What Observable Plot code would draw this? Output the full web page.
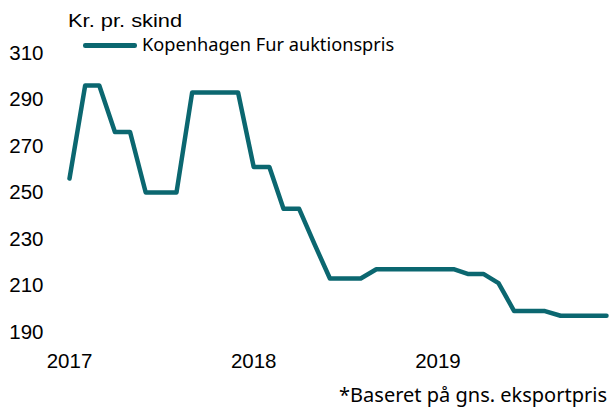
<!DOCTYPE html>
<html>
<head>
<meta charset="utf-8">
<script src="https://cdn.jsdelivr.net/npm/d3@7"></script>
<script src="https://cdn.jsdelivr.net/npm/@observablehq/plot@0.6"></script>
<style>
  html, body { margin: 0; padding: 0; background: #fff; }
  #wrap { position: relative; width: 612px; height: 407px; overflow: hidden; }
  #wrap svg { position: absolute; left: 0; top: 0; }
  .title { position: absolute; left: 68px; top: 10.6px; font-family: "Liberation Sans", Arial, sans-serif; font-size: 19px; line-height: 1; color: #000; white-space: nowrap; transform: scaleX(1.15); transform-origin: left top; }
  .legend { position: absolute; left: 83px; top: 34.5px; font-family: "Noto Sans", sans-serif; font-size: 18.2px; line-height: 1; color: #000; white-space: nowrap; }
  .legend .sw { position: absolute; left: 0; top: 8.5px; width: 54px; height: 4.5px; background: #0b6770; border-radius: 2.25px; }
  .legend .lt { position: absolute; left: 59px; top: 0; }
  .caption { position: absolute; right: 5px; top: 384.5px; font-family: "Noto Sans", sans-serif; font-size: 20px; line-height: 1; color: #000; white-space: nowrap; }
</style>
</head>
<body>
<div id="wrap">
  <div class="title">Kr. pr. skind</div>
  <div class="legend"><span class="sw"></span><span class="lt">Kopenhagen Fur auktionspris</span></div>
  <div class="caption">*Baseret på gns. eksportpris</div>
</div>
<script>
const months = [
  "2017-01","2017-02","2017-03","2017-04","2017-05","2017-06","2017-07","2017-08","2017-09","2017-10","2017-11","2017-12",
  "2018-01","2018-02","2018-03","2018-04","2018-05","2018-06","2018-07","2018-08","2018-09","2018-10","2018-11","2018-12",
  "2019-01","2019-02","2019-03","2019-04","2019-05","2019-06","2019-07","2019-08","2019-09","2019-10","2019-11","2019-12"
];
const prices = [
  256, 296, 296, 276, 276, 250, 250, 250, 293, 293, 293, 293,
  261, 261, 243, 243, 228, 213, 213, 213, 217, 217, 217, 217,
  217, 217, 215, 215, 211, 199, 199, 199, 197, 197, 197, 197
];
const yTicks = [190, 210, 230, 250, 270, 290, 310];
const xTickYears = ["2017-01", "2018-01", "2019-01"];
const seriesName = "Kopenhagen Fur auktionspris";

const parse = d3.utcParse("%Y-%m");
const data = months.map((m, i) => ({date: parse(m), value: prices[i], series: seriesName}));

const chart = Plot.plot({
  width: 612,
  height: 407,
  marginLeft: 69,
  marginRight: 6,
  marginTop: 52.5,
  marginBottom: 407 - 331.5,
  style: {fontFamily: "'Liberation Sans', Arial, sans-serif", fontSize: "20.5px", color: "#000", background: "transparent"},
  x: {type: "utc", domain: [parse(months[0]), parse(months[months.length - 1])], label: null},
  y: {domain: [190, 310], label: null},
  marks: [
    Plot.axisX({ticks: xTickYears.map(parse), tickFormat: d3.utcFormat("%Y"), tickSize: 0, tickPadding: 21, fontSize: 20.5, label: null}),
    Plot.axisY({ticks: yTicks, tickSize: 0, tickPadding: 26, fontSize: 20.5, label: null}),
    Plot.line(data, {x: "date", y: "value", stroke: "#0b6770", strokeWidth: 4.5, strokeLinejoin: "round", strokeLinecap: "round"})
  ]
});
document.getElementById("wrap").prepend(chart);
</script>
</body>
</html>
